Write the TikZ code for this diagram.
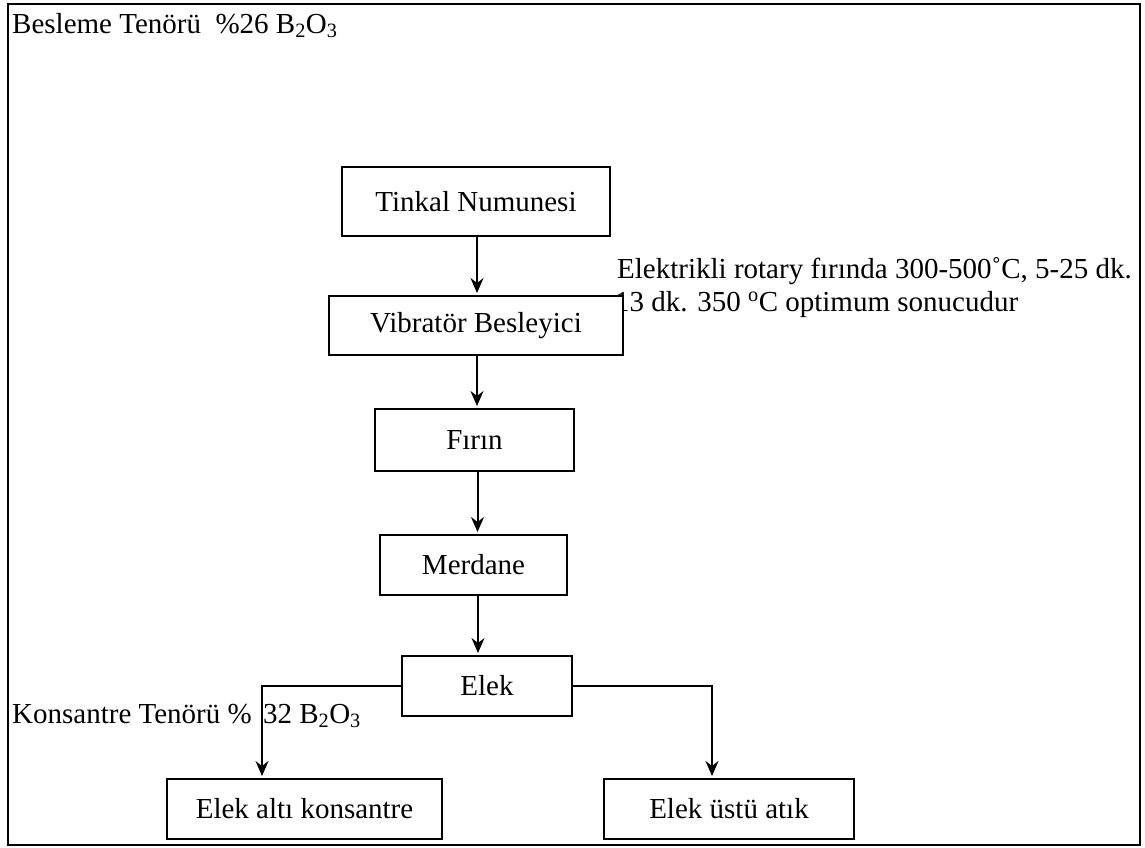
\documentclass[tikz,border=0pt]{standalone}
\usepackage{fontspec}
\setmainfont{Liberation Serif}
\usetikzlibrary{arrows.meta}
\tikzset{
  procbox/.style={draw, line width=2pt, fill=white, inner sep=0pt, font=\fontsize{29}{33}\selectfont},
  lbl/.style={inner sep=0pt, font=\fontsize{29}{33}\selectfont},
  arr/.style={line width=2pt, shorten >=2pt, -{Stealth[length=15pt,width=13pt,inset=5pt]}},
  frame/.style={line width=2pt}
}
\begin{document}
\begin{tikzpicture}[x=1pt,y=-1pt]
\useasboundingbox (0,0) rectangle (1145,847);
\draw[frame] (8,4) rectangle (1140,845);

\node[lbl, anchor=base west] (title) at (12,33) {Besleme Tenörü\ \ \%26 B\textsubscript{2}O\textsubscript{3}};
\node[lbl, anchor=base west] (note1) at (617,278) {Elektrikli rotary fırında 300-500˚C, 5-25 dk.};
\node[lbl, anchor=base west] (note2) at (615,311) {13 dk. 350 \textsuperscript{o}C optimum sonucudur};
\node[lbl, anchor=base west] (konst) at (12,723) {Konsantre Tenörü \%\kern4pt{} 32 B\textsubscript{2}O\textsubscript{3}};

\node[procbox, minimum width=268pt, minimum height=69pt] (tinkal) at (476,201.5) {Tinkal Numunesi};
\node[procbox, minimum width=294pt, minimum height=59pt] (vib) at (476,325.5) {Vibratör Besleyici};
\node[procbox, minimum width=199pt, minimum height=62pt] (firin) at (474.5,440) {Fırın};
\node[procbox, minimum width=187pt, minimum height=60pt] (merdane) at (473.5,565) {Merdane};
\node[procbox, minimum width=170pt, minimum height=60pt] (elek) at (487,686) {Elek};
\node[procbox, minimum width=275pt, minimum height=60pt] (alti) at (304.5,809) {Elek altı konsantre};
\node[procbox, minimum width=250pt, minimum height=60pt] (ustu) at (729,809) {Elek üstü atık};

\draw[arr] ([xshift=1pt]tinkal.south) -- ([xshift=1pt]tinkal.south |- vib.north);
\draw[arr] ([xshift=1pt]vib.south) -- ([xshift=1pt]vib.south |- firin.north);
\draw[arr] ([xshift=3pt]firin.south) -- ([xshift=3pt]firin.south |- merdane.north);
\draw[arr] ([xshift=4.5pt]merdane.south) -- ([xshift=4.5pt]merdane.south |- elek.north);
\draw[arr] (elek.west) -| ([xshift=-42.5pt]alti.north);
\draw[arr] (elek.east) -| ([xshift=-17pt]ustu.north);
\end{tikzpicture}
\end{document}
